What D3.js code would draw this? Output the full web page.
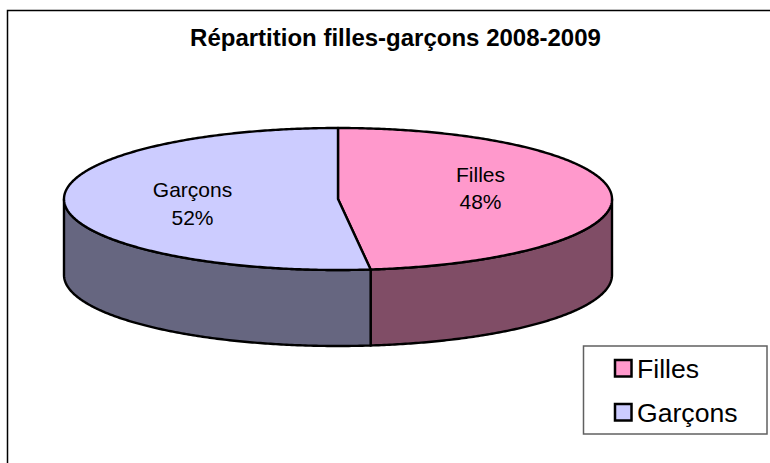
<!DOCTYPE html>
<html>
<head>
<meta charset="utf-8">
<style>
html,body{margin:0;padding:0;background:#fff;overflow:hidden}
svg{display:block}
text{font-family:"Liberation Sans",Arial,sans-serif;fill:#000}
</style>
<script src="https://cdn.jsdelivr.net/npm/d3@7/dist/d3.min.js"></script>
</head>
<body>
<script>
const chartTitle = "Répartition filles-garçons 2008-2009";
const categories = ["Filles", "Garçons"];
const shareValues = [48.1, 51.9];
const topColors = ["#ff99cc", "#ccccff"];
const sideColors = ["#804d66", "#666680"];
const W = 770, H = 463;

const svg = d3.select("body").append("svg").attr("width", W).attr("height", H);

// outer frame (runs off the right and bottom of the picture)
svg.append("path").attr("d", `M7.5,${H}V10.5H${W}`)
  .attr("fill", "none").attr("stroke", "#000").attr("stroke-width", 1.5);

svg.append("text").attr("x", 395.5).attr("y", 46).attr("text-anchor", "middle")
  .attr("font-size", 24).attr("font-weight", "bold").text(chartTitle);

// pie geometry through scales
const sx = d3.scaleLinear().domain([-1, 1]).range([64, 612]);
const sy = d3.scaleLinear().domain([-1, 1]).range([128, 270]);
const depth = 76;
const pt = (a, r = 1, dy = 0) => [sx(r * Math.sin(a)), sy(-r * Math.cos(a)) + dy];
const line = d3.line();
const arcPts = (a0, a1, dy = 0) => {
  const n = Math.max(2, Math.ceil(Math.abs(a1 - a0) / 0.01));
  return d3.range(n + 1).map(i => pt(a0 + (a1 - a0) * i / n, 1, dy));
};

const arcs = d3.pie().sort(null).value(d => d)(shareValues);
const slices = arcs.map((d, i) => ({...d, name: categories[i], topFill: topColors[i], sideFill: sideColors[i]}));
const sw = 2.4;

// walls: only the front half (PI/2 .. 3PI/2) is visible
const wallLayer = svg.append("g");
slices.forEach(d => {
  const a0 = Math.max(d.startAngle, Math.PI / 2), a1 = Math.min(d.endAngle, 3 * Math.PI / 2);
  if (a1 <= a0) return;
  const upper = arcPts(a0, a1), lower = arcPts(a1, a0, depth);
  wallLayer.append("path").attr("d", line(upper.concat(lower)) + "Z")
    .attr("fill", d.sideFill).attr("stroke", "#000").attr("stroke-width", sw).attr("stroke-linejoin", "round");
});

// top faces
const topLayer = svg.append("g");
slices.forEach(d => {
  topLayer.append("path").attr("d", line([pt(0, 0)].concat(arcPts(d.startAngle, d.endAngle))) + "Z")
    .attr("fill", d.topFill).attr("stroke", "#000").attr("stroke-width", sw).attr("stroke-linejoin", "round");
});

// slice labels
const labelPos = [[480.5, 182, 209], [192.5, 197, 225]];
slices.forEach((d, i) => {
  const g = svg.append("g").attr("text-anchor", "middle").attr("font-size", 21);
  g.append("text").attr("x", labelPos[i][0]).attr("y", labelPos[i][1]).text(d.name);
  g.append("text").attr("x", labelPos[i][0]).attr("y", labelPos[i][2]).text(Math.round(shareValues[i]) + "%");
});

// legend
const lg = svg.append("g");
lg.append("rect").attr("x", 583.5).attr("y", 346).attr("width", 183.5).attr("height", 88)
  .attr("fill", "#fff").attr("stroke", "#606060").attr("stroke-width", 1.5);
const ly = d3.scalePoint().domain(categories).range([368, 412]);
categories.forEach((c, i) => {
  lg.append("rect").attr("x", 615).attr("y", ly(c) - 8).attr("width", 16.5).attr("height", 16.5)
    .attr("fill", topColors[i]).attr("stroke", "#000").attr("stroke-width", 2.5);
  lg.append("text").attr("x", 637).attr("y", ly(c) + 9.5).attr("font-size", 26.6).text(c);
});
</script>
</body>
</html>
